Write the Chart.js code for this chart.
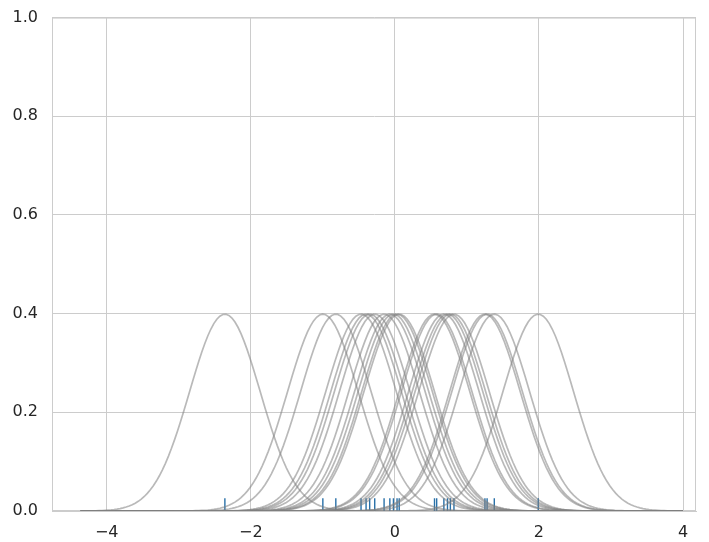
<!DOCTYPE html>
<html>
<head>
<meta charset="utf-8">
<script src="https://cdn.jsdelivr.net/npm/chart.js@4"></script>
<style>
  html, body { margin: 0; padding: 0; background: #fff; overflow: hidden; }
  #wrap { width: 709px; height: 548px; margin-top: -6px; position: relative; }
</style>
</head>
<body>
<div id="wrap"><canvas id="myChart"></canvas></div>
<script>
// --- Data ---
// observed sample (rug positions)
const samples = [-2.36, -1.00, -0.82, -0.47, -0.40, -0.35, -0.28, -0.15, -0.07, -0.02,
  0.03, 0.06, 0.55, 0.58, 0.68, 0.73, 0.77, 0.82, 1.25, 1.28, 1.38, 1.99];
const bandwidth = 0.49;
const supportPad = 2.0;
const supportSteps = 200;
const rugHeight = 0.026;
const xTicks = [-4, -2, 0, 2, 4];
const yTicks = [0, 0.2, 0.4, 0.6, 0.8, 1.0];

// support grid shared by every kernel
const lo = Math.min(...samples) - supportPad;
const hi = Math.max(...samples) + supportPad;
const support = [];
for (let i = 0; i < supportSteps; i++) support.push(lo + (hi - lo) * i / (supportSteps - 1));

// standard normal pdf of the scaled distance
function kernel(x, mu) {
  const z = (x - mu) / bandwidth;
  return Math.exp(-0.5 * z * z) / Math.sqrt(2 * Math.PI);
}

// --- Datasets ---
const datasets = [];
samples.forEach((mu) => {
  datasets.push({
    data: support.map((x) => ({ x: x, y: kernel(x, mu) })),
    borderColor: "rgba(128,128,128,0.55)",
    borderWidth: 1.7,
    pointRadius: 0,
    fill: false,
    tension: 0,
  });
});
samples.forEach((mu) => {
  datasets.push({
    data: [{ x: mu, y: 0 }, { x: mu, y: rugHeight }],
    borderColor: "#2870a8",
    borderWidth: 1.4,
    pointRadius: 0,
    fill: false,
  });
});

// frame around the plot area
const frame = {
  id: "frame",
  beforeDatasetsDraw(chart) {
    const a = chart.chartArea, c = chart.ctx;
    c.save();
    c.strokeStyle = "#cccccc";
    c.lineWidth = 1;
    c.strokeRect(a.left + 0.5, a.top + 0.5, a.right - a.left - 1, a.bottom - a.top - 1);
    c.restore();
  },
};

const fmtMinus = (v) => (v < 0 ? "\u2212" + Math.abs(v) : String(v));

new Chart(document.getElementById("myChart").getContext("2d"), {
  type: "line",
  data: { datasets: datasets },
  plugins: [frame],
  options: {
    responsive: true,
    maintainAspectRatio: false,
    animation: false,
    layout: { padding: { top: 12, right: 13, left: 0, bottom: 0 } },
    plugins: { legend: { display: false }, tooltip: { enabled: false } },
    scales: {
      x: {
        type: "linear",
        min: -4.76,
        max: 4.18,
        afterBuildTicks: (s) => { s.ticks = xTicks.map((v) => ({ value: v })); },
        afterFit: (s) => { s.height = 31; },
        ticks: {
          callback: (v) => fmtMinus(v),
          color: "#262626",
          font: { family: "DejaVu Sans", size: 16 },
          padding: 12,
          maxRotation: 0,
        },
        grid: { color: "#cccccc", lineWidth: 1, drawTicks: false },
        border: { color: "#cccccc" },
      },
      y: {
        type: "linear",
        min: 0,
        max: 1.0,
        afterBuildTicks: (s) => { s.ticks = yTicks.map((v) => ({ value: v })); },
        afterFit: (s) => { s.width = 52; },
        ticks: {
          callback: (v) => v.toFixed(1),
          color: "#262626",
          font: { family: "DejaVu Sans", size: 16 },
          padding: 14,
        },
        grid: { color: "#cccccc", lineWidth: 1, drawTicks: false },
        border: { color: "#cccccc" },
      },
    },
  },
});
</script>
</body>
</html>
